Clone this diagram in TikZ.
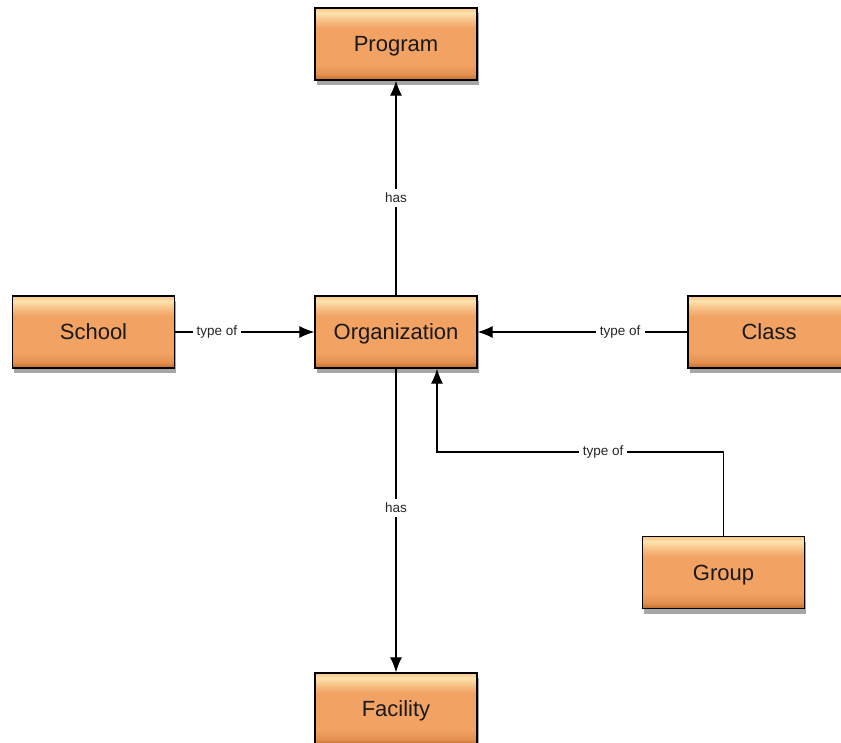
\documentclass[tikz,border=0pt]{standalone}
\usepackage{fontspec}
\setmainfont{Liberation Sans}
\usetikzlibrary{arrows.meta,shadows,positioning}
\definecolor{boxhi}{HTML}{FCE2AE}
\definecolor{boxtop}{HTML}{F8C488}
\definecolor{boxmid}{HTML}{F2A263}
\definecolor{boxbot}{HTML}{BE6A28}
\pgfdeclareverticalshading{glossy}{100bp}{color(0bp)=(boxbot); color(25bp)=(boxbot);
  color(29bp)=(boxmid!70!boxbot); color(36bp)=(boxmid); color(61bp)=(boxmid);
  color(67bp)=(boxtop); color(71.5bp)=(boxhi); color(75bp)=(boxtop); color(100bp)=(boxtop)}
\tikzset{
  entity/.style={draw=black, line width=1.3pt, minimum width=162pt, minimum height=72pt,
    inner sep=0pt, shading=glossy, text height=15.5pt, text depth=0pt,
    drop shadow={shadow xshift=1.5pt, shadow yshift=-5pt, opacity=0.35, fill=black},
    font=\fontsize{22}{25}\selectfont, text=black!90},
  conn/.style={line width=1.2pt, draw=black},
  arr/.style={conn, -{Latex[length=15pt,width=12pt]}},
  lbl/.style={fill=white, inner sep=4pt, font=\fontsize{13.5}{15}\selectfont, text=black!85}
}
\begin{document}
\begin{tikzpicture}[x=1pt,y=-1pt]
\useasboundingbox (0,0) rectangle (841,742);
\node[entity] (program) at (396,44) {Program};
\node[entity] (school) at (93.5,332) {School};
\node[entity] (org) at (396,332) {Organization};
\node[entity] (class) at (769,332) {Class};
\node[entity] (group) at (723.5,572.5) {Group};
\node[entity] (facility) at (396,709) {Facility};
\coordinate (gturn) at (723.5,452);
\coordinate (oturn) at (437,452);
\draw[arr] (org.north) -- node[lbl, pos=0.455] {has} (program.south);
\draw[arr] (school.east) -- node[lbl, pos=0.3] {type of} (org.west);
\draw[arr] (class.west) -- node[lbl, pos=0.32] {type of} (org.east);
\draw[arr] (org.south) -- node[lbl, pos=0.459] {has} (facility.north);
\draw[arr] (group.north) -- (gturn) -- node[lbl, pos=0.42] {type of} (oturn) -- (oturn |- org.south);
\end{tikzpicture}
\end{document}
